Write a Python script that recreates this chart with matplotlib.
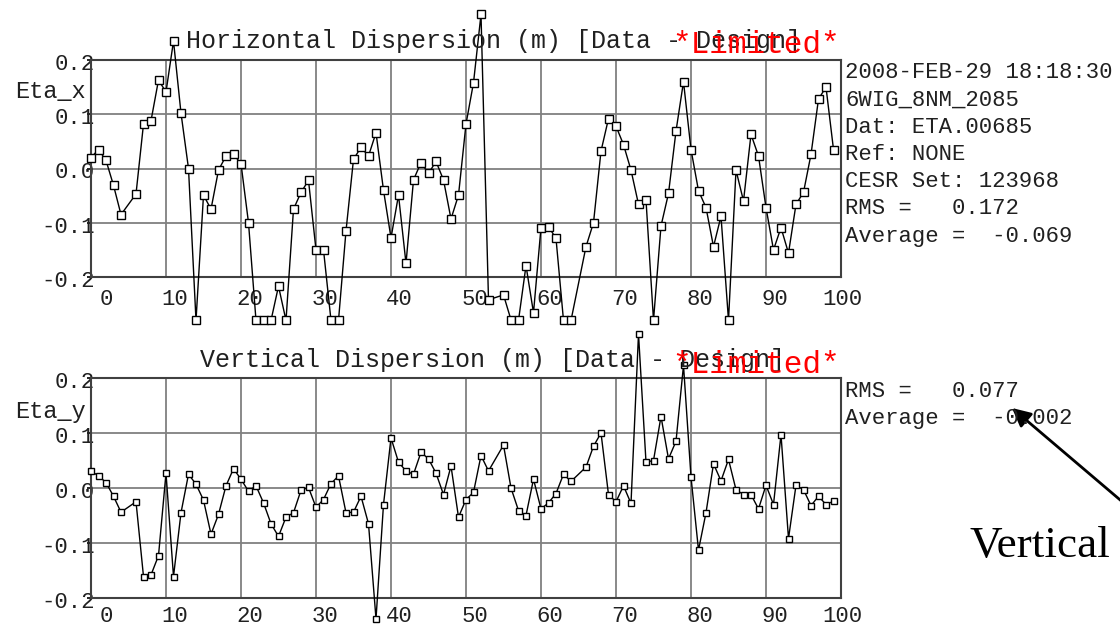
import matplotlib
matplotlib.use('Agg')
import matplotlib.pyplot as plt
from matplotlib.transforms import ScaledTranslation

# detector indices 0..99, with a few dead BPMs
skipped = [5, 54, 65]
det = [i for i in range(100) if i not in skipped]

eta_x = [0.020, 0.035, 0.015, -0.031, -0.085, -0.047, 0.082, 0.088, 0.163, 0.141,
         0.235, 0.102, 0.000, -0.280, -0.049, -0.075, -0.003, 0.023, 0.026, 0.009,
         -0.100, -0.280, -0.280, -0.280, -0.217, -0.280, -0.075, -0.044, -0.022, -0.150,
         -0.150, -0.280, -0.280, -0.115, 0.017, 0.039, 0.023, 0.066, -0.040, -0.128,
         -0.049, -0.175, -0.021, 0.011, -0.009, 0.013, -0.021, -0.093, -0.049, 0.082,
         0.158, 0.284, -0.242, -0.233, -0.279, -0.280, -0.179, -0.266, -0.109, -0.107,
         -0.129, -0.280, -0.280, -0.144, -0.100, 0.032, 0.092, 0.078, 0.044, -0.003,
         -0.066, -0.058, -0.280, -0.106, -0.046, 0.069, 0.160, 0.035, -0.041, -0.072,
         -0.144, -0.088, -0.280, -0.003, -0.060, 0.063, 0.023, -0.072, -0.150, -0.109,
         -0.156, -0.066, -0.044, 0.026, 0.128, 0.150, 0.035]

eta_y = [0.031, 0.022, 0.010, -0.015, -0.044, -0.025, -0.161, -0.158, -0.123, 0.027,
         -0.161, -0.045, 0.025, 0.007, -0.022, -0.084, -0.048, 0.004, 0.035, 0.016,
         -0.006, 0.004, -0.027, -0.065, -0.088, -0.053, -0.045, -0.004, 0.001, -0.035,
         -0.021, 0.008, 0.022, -0.045, -0.044, -0.015, -0.065, -0.238, -0.030, 0.091,
         0.047, 0.031, 0.025, 0.065, 0.053, 0.027, -0.012, 0.040, -0.053, -0.021,
         -0.008, 0.059, 0.031, 0.078, 0.000, -0.041, -0.050, 0.016, -0.038, -0.027,
         -0.010, 0.025, 0.012, 0.038, 0.076, 0.100, -0.012, -0.025, 0.004, -0.028,
         0.280, 0.047, 0.050, 0.130, 0.053, 0.085, 0.223, 0.020, -0.113, -0.045,
         0.044, 0.013, 0.052, -0.003, -0.012, -0.012, -0.038, 0.005, -0.030, 0.097,
         -0.092, 0.005, -0.003, -0.032, -0.015, -0.030, -0.024]

xticks = list(range(0, 101, 10))
yticks = [-0.2, -0.1, 0.0, 0.1, 0.2]
ylabels = ['-0.2', '-0.1', '0.0', '0.1', '0.2']

info_x = ['2008-FEB-29 18:18:30', '6WIG_8NM_2085', 'Dat: ETA.00685', 'Ref: NONE',
          'CESR Set: 123968', 'RMS =   0.172', 'Average =  -0.069']
info_y = ['RMS =   0.077', 'Average =  -0.002']

W, H = 1120, 628
MONO = 'Liberation Mono'
INK = '#202020'


def fx(px):
    return px / W


def fy(py):
    return 1 - py / H


fig = plt.figure(figsize=(W / 100, H / 100), dpi=100)
fig.patch.set_facecolor('white')


def dispersion_panel(top, bottom, yvals, ms, xlab_drop):
    ax = fig.add_axes([fx(91), fy(bottom), (841 - 91) / W, (bottom - top) / H])
    ax.plot(det, yvals, '-', color='black', lw=1.0, marker='s', ms=ms,
            mfc='white', mec='black', mew=1.0, clip_on=False, zorder=3)
    ax.set_xlim(0, 100)
    ax.set_ylim(-0.2, 0.2)
    ax.set_xticks(xticks)
    ax.set_xticklabels([str(t) for t in xticks])
    ax.set_yticks(yticks)
    ax.set_yticklabels(ylabels)
    ax.grid(True, color='#808080', lw=1.3)
    ax.set_axisbelow(True)
    for s in ax.spines.values():
        s.set_color('#404040')
        s.set_linewidth(1.5)
    ax.tick_params(axis='x', length=0, pad=0, labelsize=16, labelcolor=INK)
    ax.tick_params(axis='y', length=3, width=1.2, pad=0, direction='out',
                   labelsize=16, labelcolor=INK)
    dx = ScaledTranslation(0.22, -xlab_drop, fig.dpi_scale_trans)
    for lab in ax.get_xticklabels():
        lab.set_fontfamily(MONO)
        lab.set_horizontalalignment('right')
        lab.set_verticalalignment('baseline')
        lab.set_transform(lab.get_transform() + dx)
    dy = ScaledTranslation(0.082, -0.10, fig.dpi_scale_trans)
    for lab in ax.get_yticklabels():
        lab.set_fontfamily(MONO)
        lab.set_verticalalignment('baseline')
        lab.set_transform(lab.get_transform() + dy)
    return ax


ax1 = dispersion_panel(60, 277, eta_x, 6, 0.28)
ax2 = dispersion_panel(378, 598, eta_y, 5, 0.24)

# titles and the red limit flag
fig.text(fx(186), fy(48), 'Horizontal Dispersion (m) [Data - Design]',
         family=MONO, fontsize=18, color=INK, va='baseline')
fig.text(fx(200), fy(367), 'Vertical Dispersion (m) [Data - Design]',
         family=MONO, fontsize=18, color=INK, va='baseline')
for base in (53, 373):
    fig.text(fx(672), fy(base), '*Limited*', family=MONO, fontsize=22.4,
             color='red', va='baseline')

fig.text(fx(15), fy(98), 'Eta_x', family=MONO, fontsize=17, color=INK, va='baseline')
fig.text(fx(15), fy(418), 'Eta_y', family=MONO, fontsize=17, color=INK, va='baseline')

# run info to the right of each panel
for i, line in enumerate(info_x):
    fig.text(fx(845), fy(78 + 27.3 * i), line, family=MONO, fontsize=16,
             color=INK, va='baseline')
for i, line in enumerate(info_y):
    fig.text(fx(845), fy(397 + 27.3 * i), line, family=MONO, fontsize=16,
             color=INK, va='baseline')

# callout
fig.text(fx(970), fy(557), 'Vertical', family='Liberation Serif', fontsize=32.5,
         color='black', va='baseline')
fig.add_artist(plt.Annotation('', xy=(fx(1012), fy(408)), xytext=(fx(1132), fy(510)),
                              xycoords='figure fraction', textcoords='figure fraction',
                              arrowprops=dict(arrowstyle='-|>', lw=2, color='black',
                                              mutation_scale=28, shrinkA=0, shrinkB=0)))

fig.savefig('out.png', dpi=100)
